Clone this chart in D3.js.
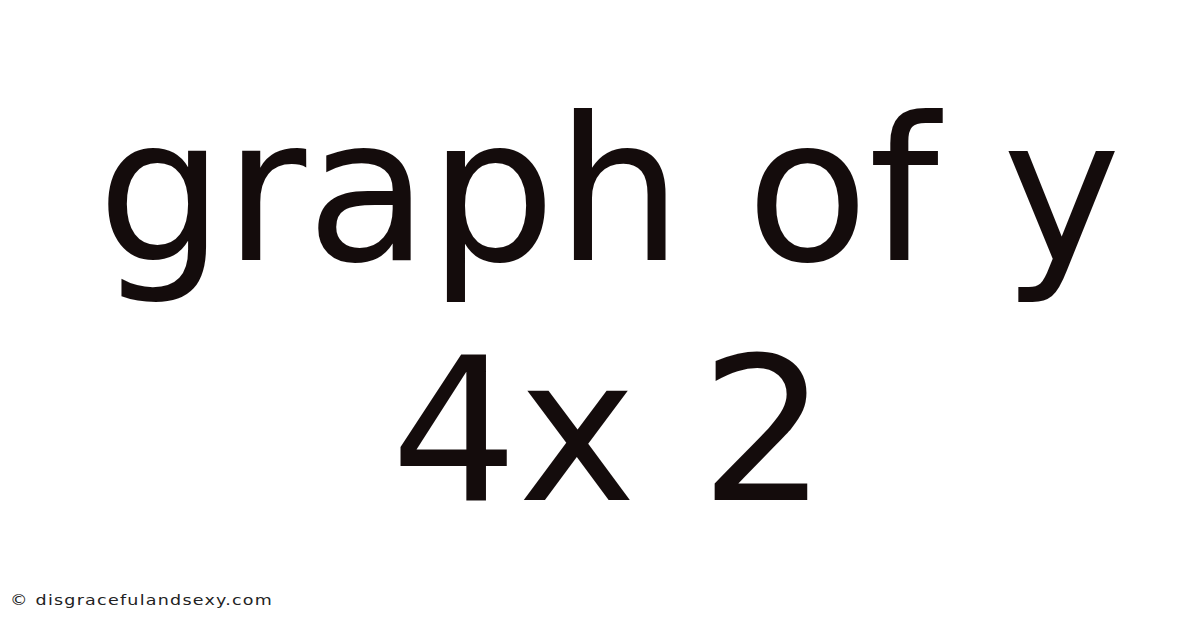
<!DOCTYPE html>
<html>
  <head>
    <meta charset="utf-8">
    <script src="https://d3js.org/d3.v7.min.js"></script>
    <style>
      body { margin: 0; background: #fff; }
    </style>
  </head>
  <body>
    <script>
      var w = 1200;
      var h = 628;

      // title lines, big centred text
      var title_lines = ["graph of y", "4x 2"];
      var footer_text = ["\u00a9 disgracefulandsexy.com"];

      var svg = d3.select("body")
        .append("svg")
        .attr("width", w)
        .attr("height", h);

      svg.append("rect")
        .attr("width", w)
        .attr("height", h)
        .attr("fill", "#ffffff");

      var line_y = d3.scalePoint()
        .domain(d3.range(title_lines.length))
        .range([260, 500]);

      svg.selectAll(".title_line")
        .data(title_lines)
        .enter()
        .append("text")
        .attr("class", "title_line")
        .attr("x", 609)
        .attr("y", function(d, i){ return line_y(i); })
        .attr("text-anchor", "middle")
        .attr("font-family", "DejaVu Sans")
        .attr("font-size", 200)
        .attr("fill", "#140c0c")
        .text(function(d){ return d; });

      // footer is drawn a bit stretched sideways, like the reference
      svg.selectAll(".footer")
        .data(footer_text)
        .enter()
        .append("text")
        .attr("class", "footer")
        .attr("transform", "translate(10,605) scale(1.25,1)")
        .attr("font-family", "DejaVu Sans")
        .attr("font-size", 14)
        .attr("letter-spacing", 1)
        .attr("fill", "#222222")
        .text(function(d){ return d; });
    </script>
  </body>
</html>
